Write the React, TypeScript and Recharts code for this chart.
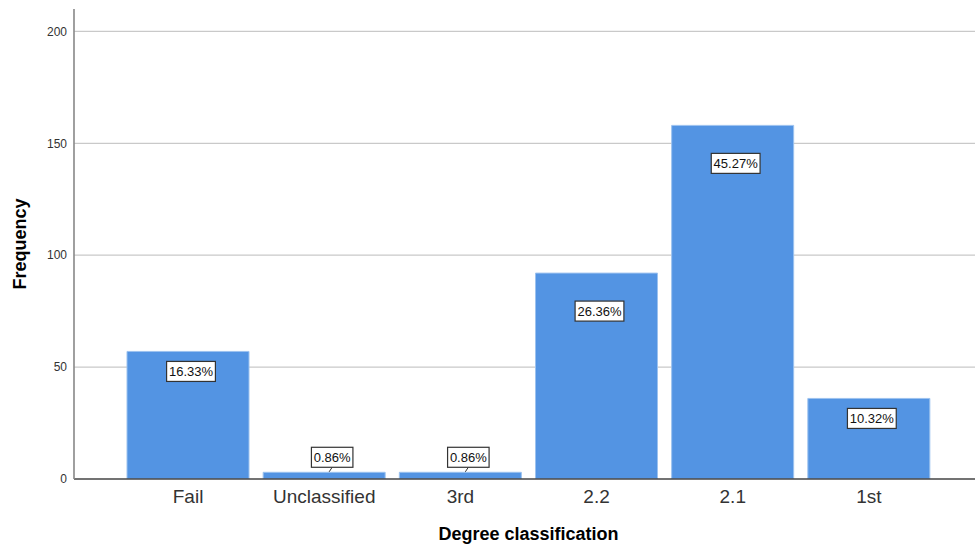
import React from 'react';
import { BarChart, Bar, XAxis, YAxis, CartesianGrid, LabelList, Label } from 'recharts';

// Degree classification counts
const categories = ['Fail', 'Unclassified', '3rd', '2.2', '2.1', '1st'];
const frequencies = [57, 3, 3, 92, 158, 36];
const yTicks = [0, 50, 100, 150, 200];

const total = frequencies.reduce((a, b) => a + b, 0);
const data = categories.map((name, i) => ({
  name,
  count: frequencies[i],
  pct: ((frequencies[i] / total) * 100).toFixed(2) + '%',
}));

const FONT = '"Liberation Sans", Arial, Helvetica, sans-serif';

// Boxed percentage label: inside the bar for tall bars, above with a small pointer for short ones
function PercentCallout(props: any) {
  const { x, y, width, height, value } = props;
  const text = String(value);
  const boxW = text.length * 7.3 + 5;
  const boxH = 20;
  const cx = x + width / 2;
  if (height < 30) {
    const bx = cx + 8;
    const bottom = y - 5;
    const top = bottom - boxH;
    return (
      <g>
        <line x1={bx} y1={bottom} x2={bx - 3} y2={y - 0.5} stroke="#333" strokeWidth={1} />
        <rect x={bx - boxW / 2} y={top} width={boxW} height={boxH} fill="#fff" stroke="#333" strokeWidth={1.2} />
        <text x={bx} y={top + 14.5} textAnchor="middle" fontFamily={FONT} fontSize={13} fill="#111">
          {text}
        </text>
      </g>
    );
  }
  const bx = cx + 3;
  const top = y + (height >= 150 ? 28 : 10);
  return (
    <g>
      <rect x={bx - boxW / 2} y={top} width={boxW} height={boxH} fill="#fff" stroke="#333" strokeWidth={1.2} />
      <text x={bx} y={top + 14.5} textAnchor="middle" fontFamily={FONT} fontSize={13} fill="#111">
        {text}
      </text>
    </g>
  );
}

function XTitle(props: any) {
  const { viewBox } = props;
  const cx = viewBox.x + 46 + (viewBox.width - 46 - 38) / 2;
  return (
    <text x={cx} y={540} textAnchor="middle" fontFamily={FONT} fontSize={18} fontWeight="bold" fill="#000">
      Degree classification
    </text>
  );
}

function YTitle(props: any) {
  const { viewBox } = props;
  const cy = viewBox.y + viewBox.height / 2;
  return (
    <text
      x={26}
      y={cy}
      transform={`rotate(-90, 26, ${cy})`}
      textAnchor="middle"
      fontFamily={FONT}
      fontSize={18}
      fontWeight="bold"
      fill="#000"
    >
      Frequency
    </text>
  );
}

export default function App() {
  return (
    <div style={{ position: 'absolute', left: 0, top: 0, background: '#fff' }}>
      <BarChart width={975} height={544} data={data} margin={{ top: 9, right: 0, bottom: 0, left: 0 }}>
        <CartesianGrid
          vertical={false}
          horizontalValues={yTicks.filter((t) => t > 0)}
          stroke="#c9c9c9"
          strokeWidth={1.2}
        />
        <XAxis
          dataKey="name"
          height={65}
          padding={{ left: 46, right: 38 }}
          tickLine={false}
          tickSize={0}
          tickMargin={11}
          axisLine={{ stroke: '#444', strokeWidth: 1.5 }}
          tick={{ fontFamily: FONT, fontSize: 19, fill: '#333' }}
          interval={0}
        >
          <Label content={<XTitle />} />
        </XAxis>
        <YAxis
          width={74}
          domain={[0, 210]}
          ticks={yTicks}
          allowDataOverflow
          tickLine={false}
          tickSize={0}
          tickMargin={7}
          axisLine={{ stroke: '#888', strokeWidth: 1.6 }}
          tick={{ fontFamily: FONT, fontSize: 12, fill: '#333' }}
        >
          <Label content={<YTitle />} />
        </YAxis>
        <Bar dataKey="count" fill="#5394e3" stroke="#9cc2ef" strokeWidth={1} barSize={122} isAnimationActive={false}>
          <LabelList dataKey="pct" content={<PercentCallout />} />
        </Bar>
      </BarChart>
    </div>
  );
}
